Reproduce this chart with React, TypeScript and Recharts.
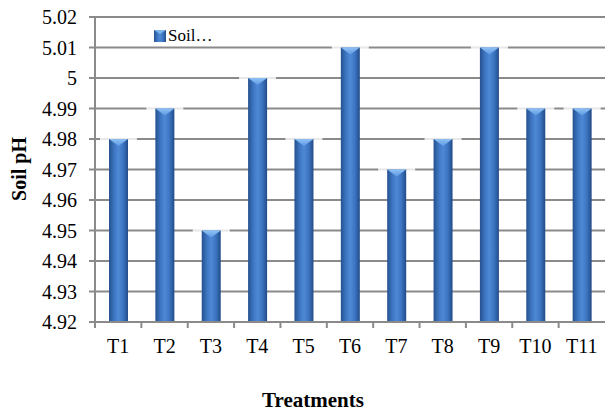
import React from 'react';
import { BarChart, Bar, XAxis, YAxis, CartesianGrid, Legend } from 'recharts';

const categories = ['T1', 'T2', 'T3', 'T4', 'T5', 'T6', 'T7', 'T8', 'T9', 'T10', 'T11'];
const soilPH = [4.98, 4.99, 4.95, 5.0, 4.98, 5.01, 4.97, 4.98, 5.01, 4.99, 4.99];
const yTicks = [4.92, 4.93, 4.94, 4.95, 4.96, 4.97, 4.98, 4.99, 5.0, 5.01, 5.02];
const seriesName = 'Soil…';

const data = categories.map((c, i) => ({ name: c, ph: soilPH[i] }));

const FONT = '"Liberation Serif", "Times New Roman", serif';
const GRID = '#8a8a8a';

const CylBar = (props: any) => {
  const { x, y, width, height } = props;
  if (height <= 0) return null;
  const cap = Math.min(7, height);
  return (
    <g>
      <rect x={x - 9} y={y - 3} width={width + 18} height={6} fill="#ffffff" opacity={0.8} />
      <rect x={x} y={y} width={width} height={height} fill="url(#cylGrad)" />
      <polygon points={`${x},${y} ${x + width},${y} ${x + width / 2},${y + cap}`} fill="url(#capGrad)" />
    </g>
  );
};

const XTick = (props: any) => {
  const { x, y, payload } = props;
  const left = x - (payload.offset || 0);
  return (
    <g>
      <line x1={left} y1={y} x2={left} y2={y + 6} stroke={GRID} strokeWidth={2} />
      <text x={x} y={y + 31} textAnchor="middle" fontFamily={FONT} fontSize={20} fill="#000">
        {payload.value}
      </text>
    </g>
  );
};

const fmt = (v: number) => String(Number(v.toFixed(2)));

const YTick = (props: any) => {
  const { x, y, payload } = props;
  return (
    <text x={x} y={y} textAnchor="end" dominantBaseline="central" fontFamily={FONT} fontSize={20} fill="#000">
      {fmt(payload.value)}
    </text>
  );
};

const LegendContent = () => (
  <div style={{ display: 'flex', alignItems: 'center', fontFamily: FONT, fontSize: 17, color: '#000', lineHeight: '20px' }}>
    <svg width={12} height={12} style={{ marginRight: 2 }}>
      <rect x={0} y={0} width={12} height={12} fill="url(#cylGrad)" />
      <polygon points="0,0 12,0 6,4" fill="#7fb3ee" />
    </svg>
    <span>{seriesName}</span>
  </div>
);

export default function App() {
  return (
    <div style={{ position: 'absolute', left: 0, top: 0, background: '#fff' }}>
      <BarChart width={607} height={411} data={data} margin={{ top: 17, right: 2, left: 0, bottom: 59 }}>
        <defs>
          <linearGradient id="cylGrad" x1="0" y1="0" x2="1" y2="0">
            <stop offset="0%" stopColor="#25518f" />
            <stop offset="30%" stopColor="#4079c6" />
            <stop offset="50%" stopColor="#4e89d6" />
            <stop offset="75%" stopColor="#3c74c0" />
            <stop offset="100%" stopColor="#224b88" />
          </linearGradient>
          <linearGradient id="capGrad" x1="0" y1="0" x2="0" y2="1">
            <stop offset="0%" stopColor="#8ec0f4" />
            <stop offset="100%" stopColor="#5f9be2" />
          </linearGradient>
        </defs>
        <CartesianGrid vertical={false} stroke={GRID} strokeWidth={2} />
        <XAxis
          dataKey="name"
          axisLine={{ stroke: GRID, strokeWidth: 2 }}
          tickLine={false}
          tickSize={0}
          tickMargin={0}
          height={30}
          interval={0}
          tick={<XTick />}
          label={() => (
            <text x={313} y={407} textAnchor="middle" fontFamily={FONT} fontSize={21} fontWeight="bold" fill="#000">
              Treatments
            </text>
          )}
        />
        <YAxis
          width={95}
          domain={[4.92, 5.02]}
          ticks={yTicks}
          interval={0}
          allowDataOverflow
          axisLine={{ stroke: GRID, strokeWidth: 2 }}
          tickLine={{ stroke: GRID, strokeWidth: 2 }}
          tickSize={6}
          tickMargin={12}
          tick={<YTick />}
          label={() => (
            <text
              x={21}
              y={169}
              transform="rotate(-90 21 169)"
              textAnchor="middle"
              dominantBaseline="middle"
              fontFamily={FONT}
              fontSize={20}
              fontWeight="bold"
              fill="#000"
            >
              Soil pH
            </text>
          )}
        />
        <Legend
          layout="horizontal"
          verticalAlign="middle"
          align="center"
          content={<LegendContent />}
          wrapperStyle={{ position: 'absolute', left: 154, top: 26, width: 'auto', height: 'auto' }}
        />
        <Bar dataKey="ph" name={seriesName} barSize={19} shape={<CylBar />} isAnimationActive={false} />
      </BarChart>
    </div>
  );
}
